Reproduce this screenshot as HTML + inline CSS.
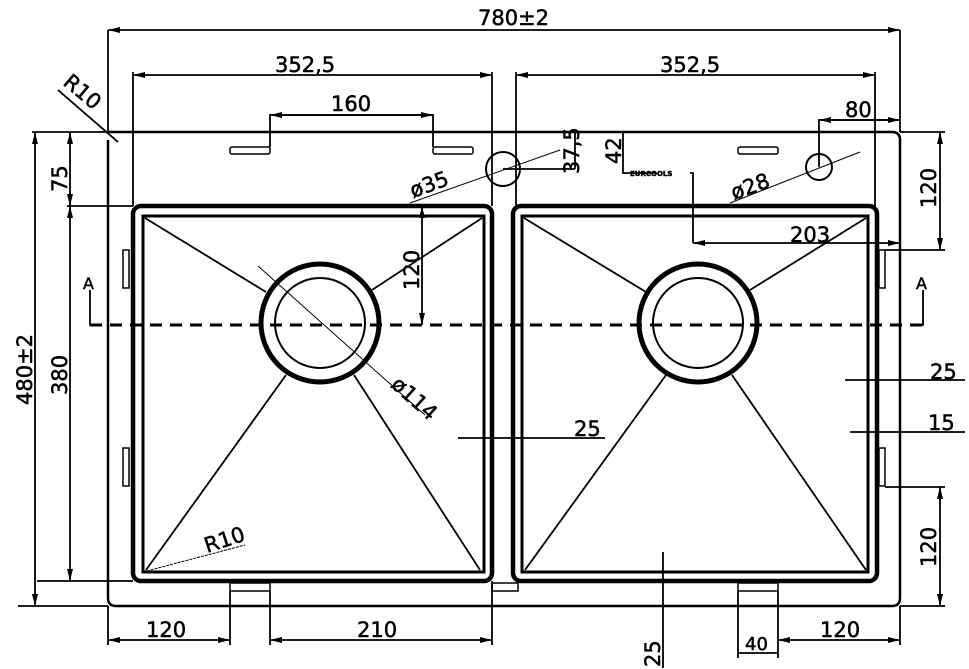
<!DOCTYPE html>
<html><head><style>html,body{margin:0;padding:0;background:#fff}svg{display:block}
text{font-family:"DejaVu Sans","Liberation Sans",sans-serif;fill:#000;stroke:#000;stroke-width:0.5}</style></head><body>
<svg width="969" height="669" viewBox="0 0 969 669" xmlns="http://www.w3.org/2000/svg">
<defs>
<marker id="a" viewBox="0 0 12 6" refX="12" refY="3" markerWidth="12" markerHeight="6" orient="auto-start-reverse" markerUnits="userSpaceOnUse"><path d="M0,0L12,3L0,6z" fill="#000"/></marker>
</defs>
<g fill="none" stroke="#000">
<path d="M108,132H892Q900,132 900,140V598Q900,606 892,606H116Q108,606 108,598V140" stroke-width="2.5"/>
<rect x="133" y="206" width="359" height="375" rx="8" stroke-width="4.5"/>
<rect x="143" y="216" width="341" height="356" stroke-width="3"/>
<rect x="513" y="206" width="364" height="375" rx="8" stroke-width="4.5"/>
<rect x="522" y="216" width="346" height="356" stroke-width="3"/>
<circle cx="320" cy="323" r="59" stroke-width="5"/><circle cx="320" cy="323" r="45" stroke-width="2"/>
<circle cx="698" cy="323" r="59" stroke-width="5"/><circle cx="698" cy="323" r="45" stroke-width="2"/>
<g stroke-width="1.8">
<line x1="145" y1="218" x2="266" y2="292"/><line x1="482" y1="218" x2="372" y2="290"/>
<line x1="146" y1="570" x2="286" y2="375"/><line x1="480" y1="570" x2="354" y2="375"/>
<line x1="524" y1="218" x2="646" y2="292"/><line x1="866" y1="218" x2="750" y2="290"/>
<line x1="525" y1="570" x2="666" y2="375"/><line x1="866" y1="570" x2="732" y2="375"/>
</g>
<rect x="123" y="250" width="6" height="38" stroke-width="1.5"/><rect x="123" y="448" width="6" height="38" stroke-width="1.5"/>
<rect x="879" y="250" width="6" height="38" stroke-width="1.5"/><rect x="879" y="448" width="6" height="38" stroke-width="1.5"/>
<rect x="230" y="583" width="40" height="8" stroke-width="1.5"/><rect x="738" y="583" width="40" height="8" stroke-width="1.5"/>
<rect x="492" y="583" width="26" height="8" stroke-width="1.5"/>
<rect x="230" y="147" width="40" height="7" rx="2" stroke-width="1.5"/><rect x="433" y="147" width="40" height="7" rx="2" stroke-width="1.5"/>
<rect x="738" y="147" width="40" height="7" rx="2" stroke-width="1.5"/>
<circle cx="503" cy="169" r="17" stroke-width="2"/><circle cx="819" cy="167" r="13" stroke-width="2"/>
<line x1="90" y1="325" x2="925" y2="325" stroke-width="3" stroke-dasharray="12,8"/>
<g stroke-width="1.8">
<polyline points="90,290 90,325 97,325"/><polyline points="923,290 923,325 916,325"/>
<line x1="108" y1="30" x2="108" y2="132"/><line x1="900" y1="30" x2="900" y2="132"/>
<line x1="108" y1="30" x2="900" y2="30" marker-start="url(#a)" marker-end="url(#a)"/>
<line x1="133" y1="72" x2="133" y2="206"/><line x1="492" y1="72" x2="492" y2="206"/>
<line x1="133" y1="75" x2="492" y2="75" marker-start="url(#a)" marker-end="url(#a)"/>
<line x1="516" y1="72" x2="516" y2="206"/><line x1="875" y1="72" x2="875" y2="206"/>
<line x1="516" y1="75" x2="875" y2="75" marker-start="url(#a)" marker-end="url(#a)"/>
<polyline points="270,147 270,115 433,115 433,147"/>
<line x1="270" y1="115" x2="433" y2="115" marker-start="url(#a)" marker-end="url(#a)"/>
<polyline points="819,167 819,120 900,120"/>
<line x1="819" y1="120" x2="900" y2="120" marker-start="url(#a)" marker-end="url(#a)"/>
<line x1="58" y1="90" x2="118" y2="142"/>
<line x1="32" y1="132" x2="108" y2="132"/><line x1="18" y1="606" x2="108" y2="606"/>
<line x1="35" y1="132" x2="35" y2="606" marker-start="url(#a)" marker-end="url(#a)"/>
<line x1="67" y1="206" x2="133" y2="206"/><line x1="37" y1="581" x2="133" y2="581"/>
<line x1="70" y1="132" x2="70" y2="206" marker-start="url(#a)" marker-end="url(#a)"/>
<line x1="70" y1="206" x2="70" y2="581" marker-start="url(#a)" marker-end="url(#a)"/>
<line x1="422" y1="206" x2="422" y2="325" marker-start="url(#a)" marker-end="url(#a)"/>
<line x1="410" y1="203" x2="560" y2="150" stroke-width="1"/>
<line x1="730" y1="203" x2="860" y2="152" stroke-width="1"/>
<line x1="258" y1="266" x2="425" y2="415" stroke-width="1"/>
<line x1="143" y1="572" x2="245" y2="545" stroke-width="1" stroke-dasharray="3,1"/>
<line x1="503" y1="169" x2="575" y2="169"/>
<line x1="575" y1="132" x2="575" y2="169"/>
<polyline points="623,132 623,173 655,173"/><polyline points="690,173 693,173 693,243"/>
<line x1="693" y1="243" x2="900" y2="243" marker-start="url(#a)" marker-end="url(#a)"/>
<line x1="900" y1="132" x2="945" y2="132"/><line x1="885" y1="250" x2="945" y2="250"/>
<line x1="940" y1="132" x2="940" y2="250" marker-start="url(#a)" marker-end="url(#a)"/>
<line x1="885" y1="487" x2="945" y2="487"/><line x1="900" y1="606" x2="945" y2="606"/>
<line x1="940" y1="487" x2="940" y2="606" marker-start="url(#a)" marker-end="url(#a)"/>
<line x1="845" y1="380" x2="965" y2="380"/>
<line x1="850" y1="432" x2="965" y2="432"/>
<line x1="458" y1="438" x2="605" y2="438"/>
<line x1="108" y1="606" x2="108" y2="645"/><line x1="230" y1="591" x2="230" y2="645"/>
<line x1="108" y1="640" x2="230" y2="640" marker-start="url(#a)" marker-end="url(#a)"/>
<line x1="270" y1="591" x2="270" y2="645"/><line x1="492" y1="581" x2="492" y2="645"/>
<line x1="270" y1="640" x2="492" y2="640" marker-start="url(#a)" marker-end="url(#a)"/>
<line x1="738" y1="591" x2="738" y2="658"/><line x1="778" y1="591" x2="778" y2="658"/>
<line x1="738" y1="653" x2="778" y2="653"/>
<line x1="778" y1="640" x2="900" y2="640" marker-start="url(#a)" marker-end="url(#a)"/>
<line x1="900" y1="606" x2="900" y2="645"/>
<line x1="663" y1="552" x2="663" y2="668"/>
</g>
</g>
<g font-size="21">
<text x="478" y="25">780±2</text>
<text x="275" y="72">352,5</text>
<text x="660" y="72">352,5</text>
<text x="331" y="111">160</text>
<text x="845" y="117">80</text>
<text x="790" y="242">203</text>
<text x="574" y="436">25</text>
<text x="930" y="379">25</text>
<text x="928" y="430">15</text>
<text x="146" y="637">120</text>
<text x="357" y="637">210</text>
<text x="820" y="637">120</text>
<text x="745" y="650" font-size="18">40</text>
<text transform="translate(67,192) rotate(-90)">75</text>
<text transform="translate(67,395) rotate(-90)">380</text>
<text transform="translate(32,405) rotate(-90)">480±2</text>
<text transform="translate(936,208) rotate(-90)">120</text>
<text transform="translate(936,567) rotate(-90)">120</text>
<text transform="translate(419,290) rotate(-90)">120</text>
<text transform="translate(660,667) rotate(-90)">25</text>
<text transform="translate(579,174) rotate(-90)">37,5</text>
<text transform="translate(621,164) rotate(-90)">42</text>
<text transform="translate(413,198) rotate(-20)">ø35</text>
<text transform="translate(734,200) rotate(-20)">ø28</text>
<text transform="translate(390,386) rotate(42)">ø114</text>
<text transform="translate(207,553) rotate(-18)">R10</text>
<text transform="translate(62,84) rotate(40)">R10</text>
<text x="83" y="289" font-size="16">A</text>
<text x="916" y="289" font-size="16">A</text>
<text x="630" y="176" font-size="7" font-weight="bold">EURCOOLS</text>
</g>
</svg>
</body></html>
